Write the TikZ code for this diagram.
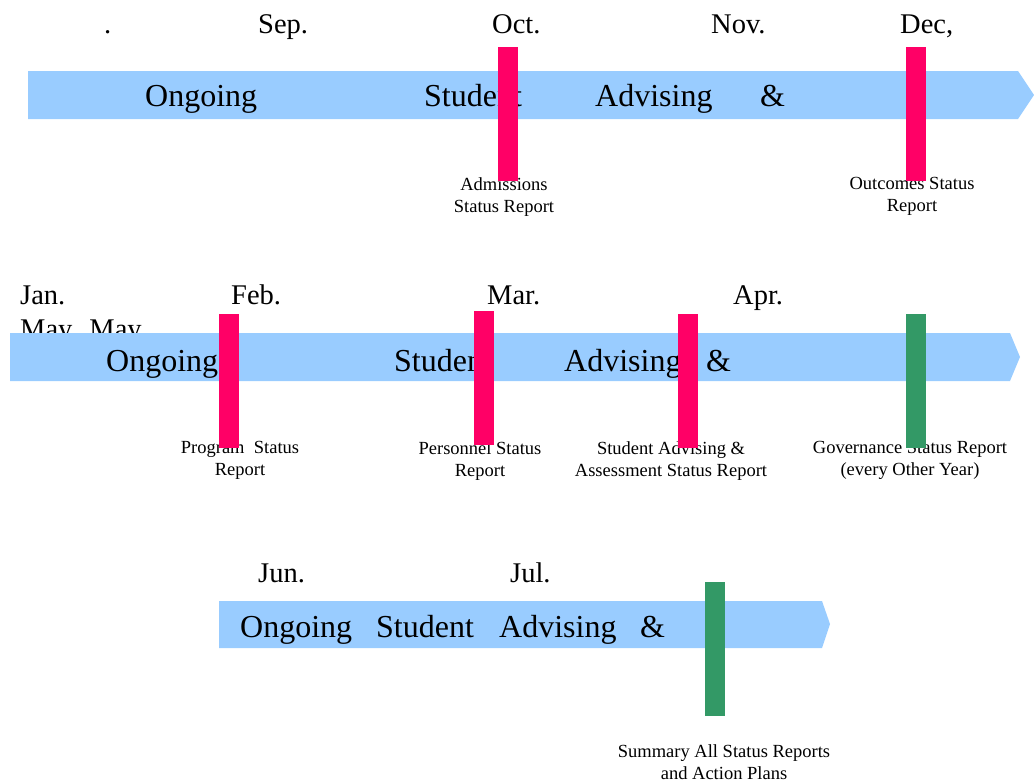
\documentclass[tikz,border=0pt]{standalone}
\usepackage{fontspec}
\setmainfont{Liberation Serif}
\usepackage{tikz}
\usetikzlibrary{positioning}
\definecolor{bandblue}{HTML}{99CCFF}
\definecolor{duepink}{HTML}{FF0066}
\definecolor{duegreen}{HTML}{339966}

\begin{document}
\begin{tikzpicture}[x=1pt, y=-1pt,
    month/.style={anchor=base west, inner sep=0pt, font=\fontsize{28.5}{30}\selectfont},
    word/.style={anchor=base west, inner sep=0pt, font=\fontsize{32}{34}\selectfont},
    band/.style={fill=bandblue},
    due/.style={minimum width=20pt, minimum height=134pt, inner sep=0pt, fill=duepink},
    note/.style={anchor=north, inner sep=0pt, align=center,
                 font=\fontsize{18.5}{22}\selectfont},
]
\useasboundingbox (0,0) rectangle (1034,782);

% --- row 1: Sep. to Dec.
\node[month] (dot) at (104,33) {.};
\node[month] (sep) at (258,33) {Sep.};
\node[month] (oct) at (492,33) {Oct.};
\node[month] (nov) at (711,33) {Nov.};
\node[month] (dec) at (900,33) {Dec,};
\fill[band] (28,71) -- (1018,71) -- (1034,95) -- (1018,119) -- (28,119) -- cycle;
\node[word] (ong1) at (145,106) {Ongoing};
\node[word] (stu1) at (424,106) {Student};
\node[word] (adv1) at (595,106) {Advising};
\node[word] (amp1) at (760,106) {\&};
\node[note] (adm) at (504,177) {Admissions\\Status Report};
\node[note] (outc) at (912,177) {Outcomes Status\\Report};
\node[due] (d-oct) at (508,114) {};
\node[due] (d-dec) at (916,114) {};

% --- row 2: Jan. to May
\node[month] (jan) at (20,304) {Jan.};
\node[month] (feb) at (231,304) {Feb.};
\node[month] (mar) at (487,304) {Mar.};
\node[month] (apr) at (733,304) {Apr.};
\node[month] (may) at (20,338) {May\hspace{17pt}May};
\fill[band] (10,333) -- (1010,333) -- (1020,357) -- (1010,381) -- (10,381) -- cycle;
\node[word] (ong2) at (106,371) {Ongoing};
\node[word] (stu2) at (394,371) {Student};
\node[word] (adv2) at (564,371) {Advising};
\node[word] (amp2) at (706,371) {\&};
\node[note] (prog) at (240,441) {Program~~Status\\Report};
\node[note] (pers) at (480,441) {Personnel Status\\Report};
\node[note] (sadv) at (671,441) {Student Advising \&\\Assessment Status Report};
\node[note] (gov) at (910,441) {Governance Status Report\\(every Other Year)};
\node[due] (d-feb) at (228.5,380.5) {};
\node[due] (d-mar) at (484,378) {};
\node[due] (d-apr) at (687.5,380.5) {};
\node[due, fill=duegreen] (d-gov) at (916,380.5) {};

% --- row 3: Jun. to Jul.
\node[month] (jun) at (258,582) {Jun.};
\node[month] (jul) at (510,582) {Jul.};
\fill[band] (219,601) -- (822,601) -- (830,624) -- (822,648) -- (219,648) -- cycle;
\node[word] (ong3) at (240,637) {Ongoing};
\node[word] (stu3) at (376,637) {Student};
\node[word] (adv3) at (499,637) {Advising};
\node[word] (amp3) at (640,637) {\&};
\node[note] (summ) at (724,744) {Summary All Status Reports\\and Action Plans};
\node[due, fill=duegreen] (d-sum) at (715,649) {};
\end{tikzpicture}
\end{document}
